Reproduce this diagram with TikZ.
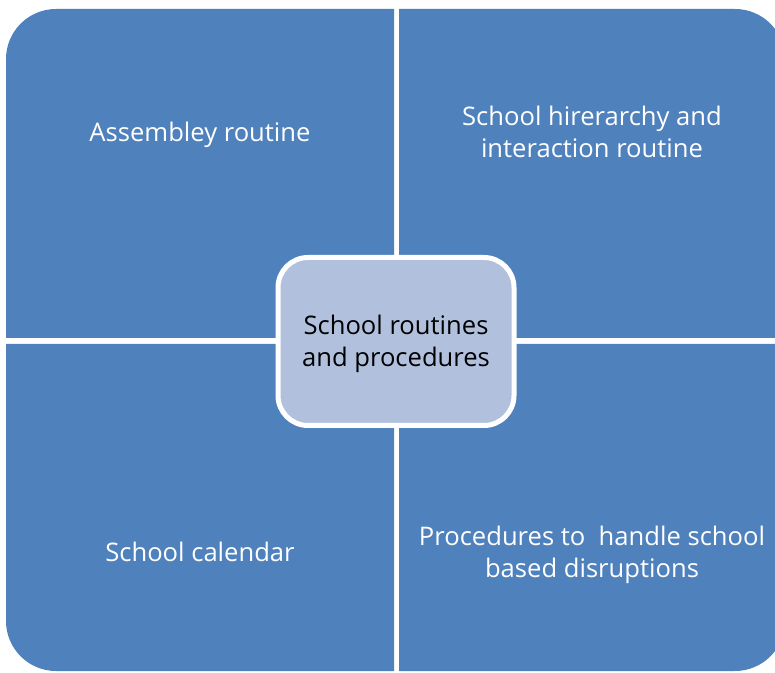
\documentclass[tikz,border=0pt]{standalone}
\usepackage{fontspec}
\setmainfont{Open Sans}
\definecolor{quad}{HTML}{4F81BD}
\definecolor{centerfill}{HTML}{B1C1DD}
\tikzset{
  quadtext/.style={text=white, align=center, font=\fontsize{25.6}{32}\selectfont},
  quadfill/.style={fill=quad},
  hub/.style={draw=white, line width=5pt, fill=centerfill, rounded corners=30pt,
    minimum width=236pt, minimum height=168pt, align=center, text=black,
    font=\fontsize{25.6}{32}\selectfont}
}
\begin{document}
\begin{tikzpicture}[x=1pt,y=1pt]
\useasboundingbox (0,0) rectangle (775,672);
\clip (0,0) rectangle (775,672);
% quadrants
\fill[quadfill] (6,334) -- (6,613) arc[start angle=180,end angle=90,radius=50] -- (394,663) -- (394,334) -- cycle;
\fill[quadfill] (399,334) -- (399,663) -- (735,663) arc[start angle=90,end angle=0,radius=50] -- (785,334) -- cycle;
\fill[quadfill] (6,328) -- (6,51) arc[start angle=180,end angle=270,radius=50] -- (394,1) -- (394,328) -- cycle;
\fill[quadfill] (399,328) -- (399,1) -- (735,1) arc[start angle=270,end angle=360,radius=50] -- (785,328) -- cycle;
% texts
\node[quadtext] (tl) at (200,537) {Assembley routine};
\node[quadtext] (tr) at (592,540) {School hirerarchy and\\interaction routine};
\node[quadtext] (bl) at (200,120) {School calendar};
\node[quadtext] (br) at (592,117) {Procedures to\ \ handle school\\based disruptions};
\node[hub] (hub) at (396,330.5) {\raisebox{-3pt}[\height][\depth]{\begin{tabular}{@{}c@{}}School routines\\and procedures\end{tabular}}};
\end{tikzpicture}
\end{document}
